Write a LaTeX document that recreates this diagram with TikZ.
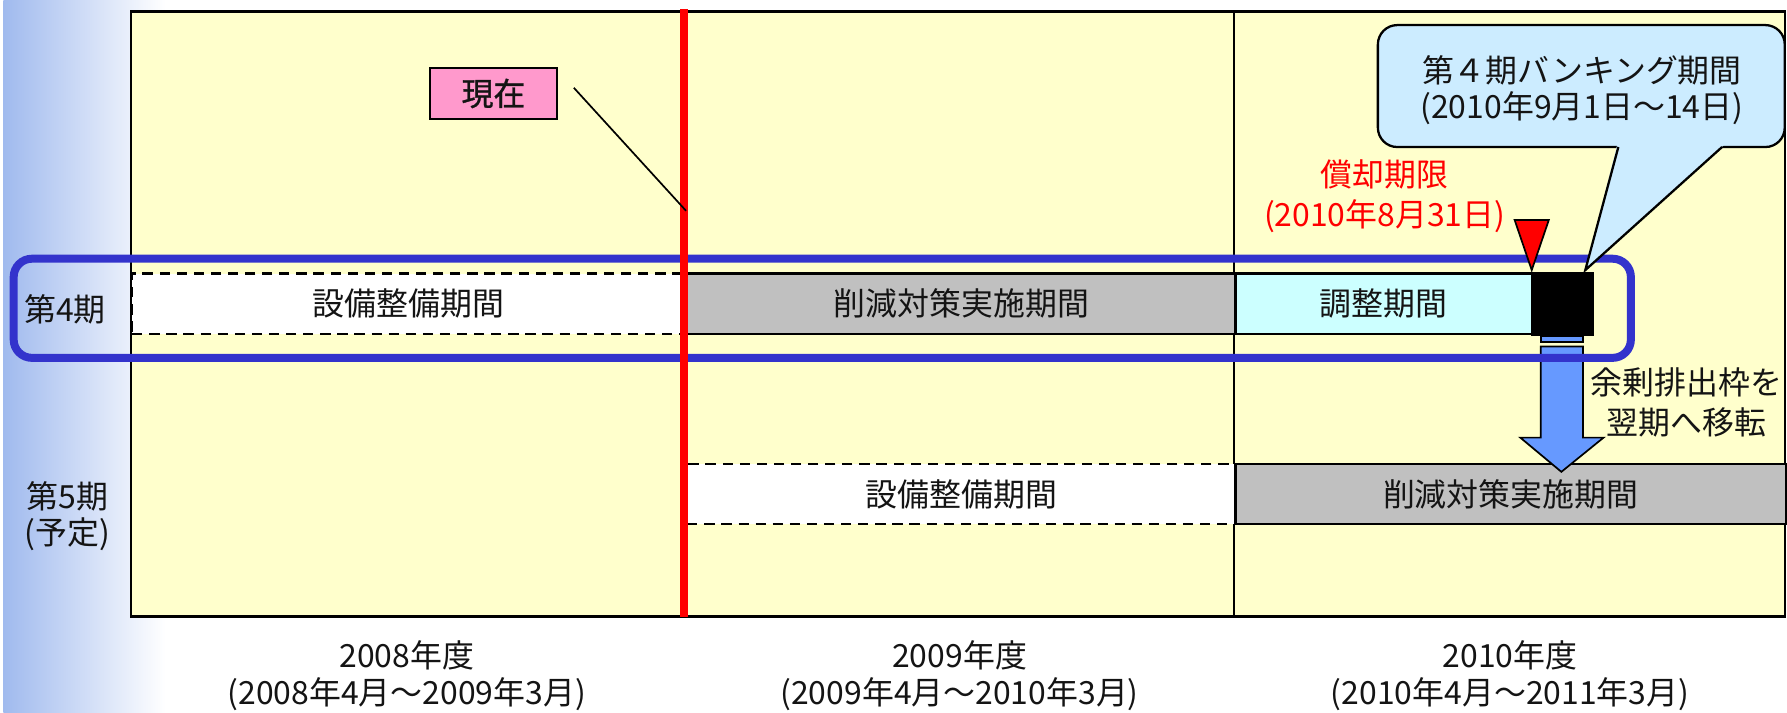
\documentclass[tikz,border=0pt]{standalone}
\usepackage{fontspec}
\usetikzlibrary{calc}
\setmainfont{Noto Sans CJK JP}
\newfontfamily\nowfont[FakeBold=1]{Noto Sans CJK JP}
\definecolor{gradblue}{RGB}{160,186,238}
\definecolor{yellowbg}{RGB}{255,255,204}
\definecolor{pinkbox}{RGB}{255,153,204}
\definecolor{bandblue}{RGB}{51,51,204}
\definecolor{grayfill}{RGB}{192,192,192}
\definecolor{cyanfill}{RGB}{204,255,255}
\definecolor{calloutfill}{RGB}{204,236,255}
\definecolor{arrowblue}{RGB}{102,153,255}
\definecolor{txt}{RGB}{20,20,20}
\begin{document}
\begin{tikzpicture}[x=1pt,y=-1pt,
  lbl/.style={font=\fontsize{28}{32}\selectfont, text=txt, align=center, inner sep=0pt},
  barbox/.style={draw=black, line width=2pt, inner sep=0pt, anchor=north west, font=\fontsize{28}{32}\selectfont, text=txt},
  dashbox/.style={barbox, fill=white, dash pattern=on 9pt off 6pt},
]
\useasboundingbox (0,0) rectangle (1568,625);
% left gradient strip
\shade[left color=gradblue, right color=white] (3,0) rectangle (145,625);
% yellow background
\draw[fill=yellowbg, line width=2pt] (115,10) rectangle (1566,541);
\draw[line width=1.5pt] (1083,10) -- (1083,541);

% row 4 bars
\node[dashbox, minimum width=485pt, minimum height=53pt] (r4a) at (115,239) {設備整備期間};
\node[barbox, fill=grayfill, minimum width=481pt, minimum height=53pt] (r4b) at (602,239) {削減対策実施期間};
\node[barbox, fill=cyanfill, minimum width=260pt, minimum height=53pt] (r4c) at (1083,239) {調整期間};

% row 5 bars
\node[dashbox, minimum width=481pt, minimum height=53pt] (r5a) at (602,406) {設備整備期間};
\node[barbox, fill=grayfill, minimum width=483pt, minimum height=53pt] (r5b) at (1083,406) {削減対策実施期間};

% arrow
\draw[fill=arrowblue, line width=1.5pt] (1352,304) -- (1389,304) -- (1389,384) -- (1407,384) -- (1370,414) -- (1334,384) -- (1352,384) -- cycle;
\draw[fill=arrowblue, line width=1.2pt] (1352,295.5) rectangle (1389,300);

% black box
\node[barbox, fill=black, minimum width=54pt, minimum height=54pt] (bk) at (1343,239) {};

% blue band
\draw[bandblue, line width=7pt, rounded corners=16pt] (12,227) rectangle (1431,314);

% red "now" line
\draw[red, line width=7pt] (600,8) -- (600,541);
\coordinate (nowpt) at (602,185);

% now label
\node[draw=black, line width=2pt, fill=pinkbox, minimum width=111pt, minimum height=45pt, inner sep=0pt, font=\nowfont\fontsize{28}{32}\selectfont, text=txt] (now) at (433,82) {現在};
\draw[line width=1.5pt] ($(now.east)+(14,-5)$) coordinate (ld) -- (nowpt);

% row labels
\node[lbl] (p4) at (57,271) {第4期};
\node[lbl] (p5) at (59,453) {第5期\\(予定)};

% year labels
\node[lbl] (y1) at (357,593) {2008年度\\(2008年4月～2009年3月)};
\node[lbl] (y2) at (842,593) {2009年度\\(2009年4月～2010年3月)};
\node[lbl] (y3) at (1325,593) {2010年度\\(2010年4月～2011年3月)};

% deadline
\node[lbl, text=red, font=\fontsize{28}{35}\selectfont] (dl) at (1215,172) {償却期限\\(2010年8月31日)};
\draw[fill=red, line width=1.5pt] (1329,193) -- (1359,193) -- (1344,237) -- cycle;

% callout
\draw[fill=calloutfill, line width=2pt, rounded corners=17pt] (1209,22) rectangle (1566,129);
\fill[calloutfill] (1419.3,126) -- (1391,237) -- (1514,126) -- cycle;
\draw[line width=2pt] (1420,129) -- (1391,237) -- (1511,129);
\node[lbl] (cb) at (1388,79) {第４期バンキング期間\\(2010年9月1日～14日)};

% transfer text
\node[lbl, font=\fontsize{28}{35}\selectfont] (tr) at (1480,353) {余剰排出枠を\\翌期へ移転};
\end{tikzpicture}
\end{document}
